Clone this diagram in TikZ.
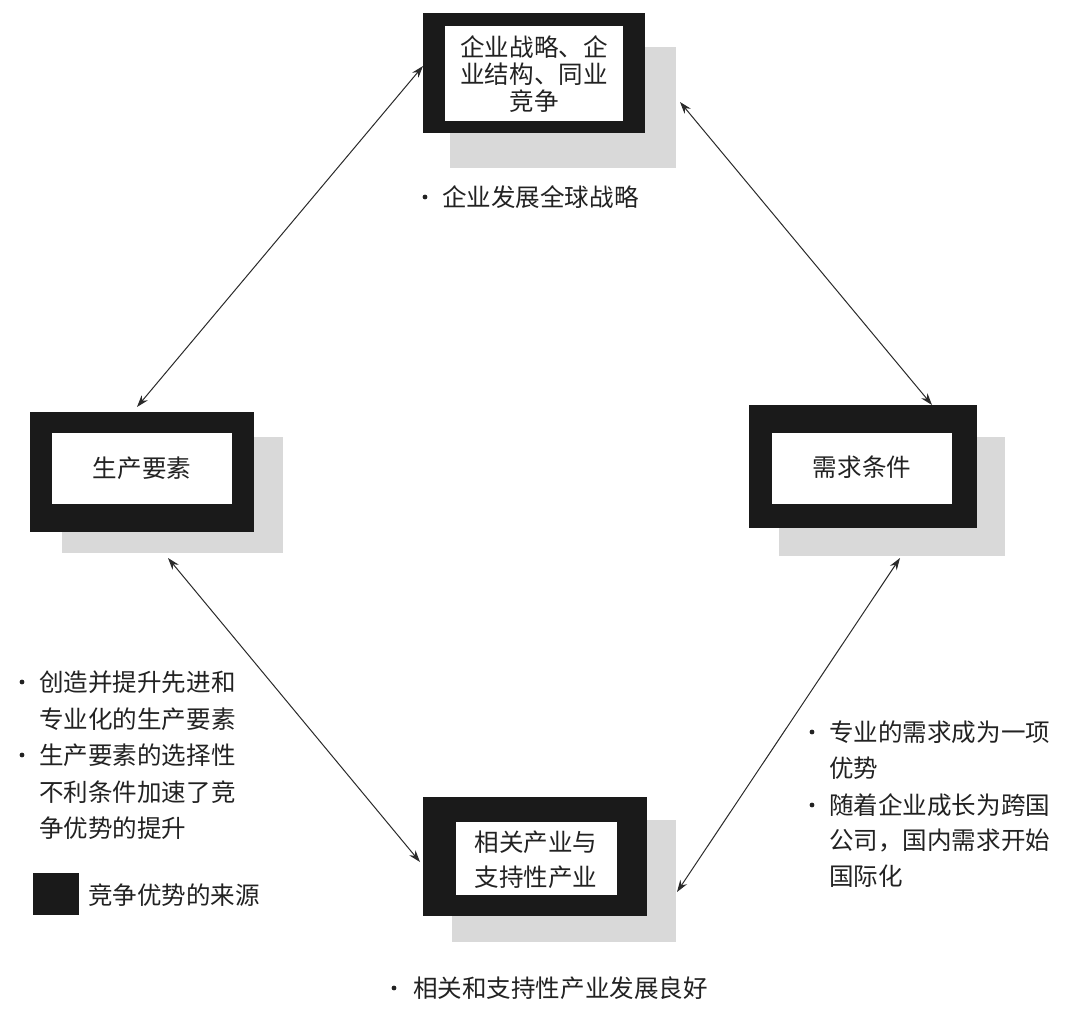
\documentclass[tikz,border=0pt]{standalone}
\usepackage{fontspec}
\setmainfont{Noto Sans CJK SC}
\usetikzlibrary{arrows.meta,fit}
\definecolor{shadowgray}{HTML}{D9D9D9}
\definecolor{boxblack}{HTML}{1A1A1A}
\definecolor{txt}{HTML}{222222}
\definecolor{linegray}{HTML}{2A2A2A}
\begin{document}
\begin{tikzpicture}[x=0.75pt,y=-0.75pt,
  shadowbox/.style={fill=shadowgray,draw=none,inner sep=0pt},
  blackbox/.style={fill=boxblack,draw=none,inner sep=0pt},
  whitebox/.style={fill=white,draw=none,inner sep=0pt},
  boxtext/.style={text=txt,align=center,inner sep=0pt,font=\fontsize{18.4}{20.2}\selectfont},
  linetext/.style={text=txt,anchor=west,inner sep=0pt,font=\fontsize{18.4}{22}\selectfont},
  bulletdot/.style={circle,fill=txt,draw=none,inner sep=0pt,minimum size=3.6pt},
  conn/.style={{Stealth[length=9pt,width=6pt]}-{Stealth[length=9pt,width=6pt]},line width=0.75pt,draw=linegray}
]
\useasboundingbox[fill=white] (0,0) rectangle (1080,1013);

% ---- top box
\node[shadowbox,fit={(450,47) (676,168)}] (topsh) {};
\node[blackbox,fit={(423,13) (645,133)}] (topbk) {};
\node[whitebox,fit={(445,26) (623,121)}] (topwh) {};
\node[boxtext] (toptx) at (534,74) {企业战略、企\\业结构、同业\\竞争};
\node[bulletdot] (topb) at (425,197) {};
\node[linetext] (topl) at (442,197) {企业发展全球战略};

% ---- left box
\node[shadowbox,fit={(62,437) (283,553)}] (leftsh) {};
\node[blackbox,fit={(30,412) (254,532)}] (leftbk) {};
\node[whitebox,fit={(52,433) (232,504)}] (leftwh) {};
\node[boxtext] (lefttx) at (142,468) {生产要素};

% ---- right box
\node[shadowbox,fit={(779,437) (1005,556)}] (rightsh) {};
\node[blackbox,fit={(749,405) (977,528)}] (rightbk) {};
\node[whitebox,fit={(772,433) (952,504)}] (rightwh) {};
\node[boxtext] (righttx) at (862,467) {需求条件};

% ---- bottom box
\node[shadowbox,fit={(452,820) (676,942)}] (botsh) {};
\node[blackbox,fit={(423,797) (647,916)}] (botbk) {};
\node[whitebox,fit={(456,822) (617,895)}] (botwh) {};
\node[boxtext,font=\fontsize{18.4}{26.25}\selectfont] (bottx) at (536,860) {相关产业与\\支持性产业};
\node[bulletdot] (botb) at (394,988) {};
\node[linetext] (botl) at (413,988) {相关和支持性产业发展良好};

% ---- left texts
\node[bulletdot] (lb1) at (22,682) {};
\node[linetext] (l1) at (39,682) {创造并提升先进和};
\node[linetext] (l2) at (39,719) {专业化的生产要素};
\node[bulletdot] (lb2) at (22,755) {};
\node[linetext] (l3) at (39,755) {生产要素的选择性};
\node[linetext] (l4) at (39,792) {不利条件加速了竞};
\node[linetext] (l5) at (39,828) {争优势的提升};

% ---- legend
\node[blackbox,fit={(33,873) (79,915)}] (legbox) {};
\node[linetext] (legtx) at (88,895) {竞争优势的来源};

% ---- right texts
\node[bulletdot] (rb1) at (812,732) {};
\node[linetext] (r1) at (829,732) {专业的需求成为一项};
\node[linetext] (r2) at (829,768) {优势};
\node[bulletdot] (rb2) at (812,805) {};
\node[linetext] (r3) at (829,805) {随着企业成长为跨国};
\node[linetext] (r4) at (829,840) {公司，国内需求开始};
\node[linetext] (r5) at (829,876) {国际化};

% ---- connectors
\coordinate (ctl) at (423,66);
\coordinate (clt) at (137,407);
\coordinate (ctr) at (680,102);
\coordinate (crt) at (932,405);
\coordinate (clb) at (168,558);
\coordinate (cbl) at (420,862);
\coordinate (crb) at (900,558);
\coordinate (cbr) at (677,892);
\draw[conn] (ctl) -- (clt);
\draw[conn] (ctr) -- (crt);
\draw[conn] (clb) -- (cbl);
\draw[conn] (crb) -- (cbr);
\end{tikzpicture}
\end{document}
